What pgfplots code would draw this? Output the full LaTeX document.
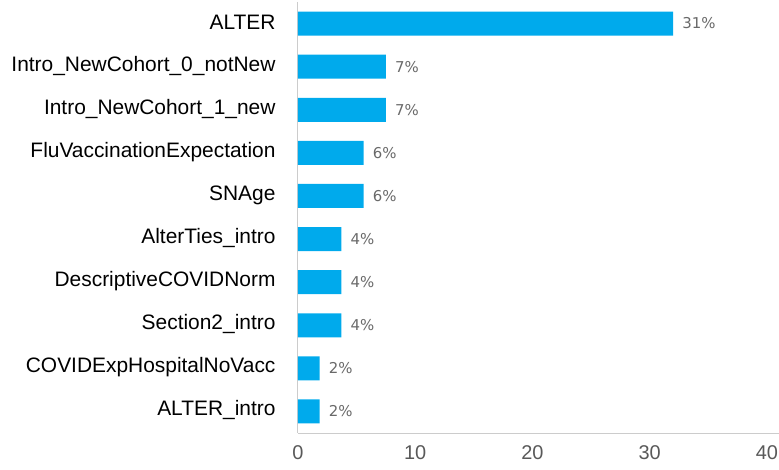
\documentclass[border=0pt]{standalone}
\usepackage{pgfplots}
\pgfplotsset{compat=1.18}
\usepackage{fontspec}
\setmainfont{Liberation Sans}
\newfontfamily\dejavu{DejaVu Sans}
\definecolor{barblue}{RGB}{0,170,236}
\definecolor{axgray}{RGB}{204,204,204}
\definecolor{lblgray}{RGB}{105,105,105}
\definecolor{tickgray}{RGB}{89,89,89}
\begin{document}
\begin{tikzpicture}
\begin{axis}[
  scale only axis,
  width=480.7bp, height=431bp,
  xbar, bar width=24bp,
  xmin=0, xmax=41,
  ymin=-0.5, ymax=9.5,
  y dir=reverse,
  xtick={0,10,20,30,40},
  ytick={0,...,9},
  yticklabels={ALTER,Intro\_NewCohort\_0\_notNew,Intro\_NewCohort\_1\_new,FluVaccinationExpectation,SNAge,AlterTies\_intro,DescriptiveCOVIDNorm,Section2\_intro,COVIDExpHospitalNoVacc,ALTER\_intro},
  axis x line*=bottom, axis y line*=left,
  axis line style={axgray, line width=1pt},
  major tick length=0pt,
  /pgf/number format/assume math mode=true,
  x tick label style={font=\fontsize{20}{22}\selectfont, text=tickgray, yshift=-9bp},
  y tick label style={font=\fontsize{21}{23}\selectfont, text=black, xshift=-19bp, yshift=1bp},
  point meta=explicit symbolic,
  nodes near coords,
  nodes near coords style={font=\dejavu\fontsize{15}{17}\selectfont, text=lblgray, anchor=west, inner sep=0pt, xshift=9bp},
  clip=false,
]
\addplot[fill=barblue, draw=none] coordinates {
  (32.0,0) [31\%]
  (7.5,1) [7\%]
  (7.5,2) [7\%]
  (5.6,3) [6\%]
  (5.6,4) [6\%]
  (3.7,5) [4\%]
  (3.7,6) [4\%]
  (3.7,7) [4\%]
  (1.85,8) [2\%]
  (1.85,9) [2\%]
};
\end{axis}
\pgfresetboundingbox
\path (current axis.south west) ++(-298bp,-37bp) rectangle ([shift={(0.3bp,2bp)}]current axis.north east);
\end{tikzpicture}
\end{document}
